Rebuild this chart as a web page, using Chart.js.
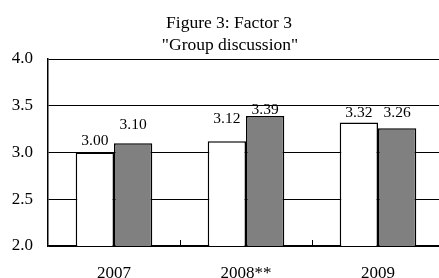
<!DOCTYPE html>
<html>
<head>
<meta charset="utf-8">
<script src="https://cdn.jsdelivr.net/npm/chart.js@4"></script>
<style>
  html, body { margin: 0; padding: 0; background: #fff; overflow: hidden; }
  #wrap { width: 445px; height: 278px; }
</style>
</head>
<body>
<div id="wrap"><canvas id="chart" width="445" height="278"></canvas></div>
<script>
// Figure 3: Factor 3 "Group discussion"
const titleLines = ['Figure 3: Factor 3', '"Group discussion"'];
const years = ['2007', '2008**', '2009'];
const seriesA = [3.00, 3.12, 3.32];   // white bars
const seriesB = [3.10, 3.39, 3.26];   // grey bars
const yTicks = [2.0, 2.5, 3.0, 3.5, 4.0];

const serif = '"Liberation Serif", "Times New Roman", serif';

// hand-placed label gaps (px above bar top), as in the original sheet
const labelGap = [[8, 18, 6], [14, 2, 11]];

// title drawn by hand so it can sit a bit left of the plot centre like the original
const titlePlugin = {
  id: 'titleLines',
  afterDraw(chart) {
    const ctx = chart.ctx;
    ctx.save();
    ctx.fillStyle = '#000';
    ctx.font = '17.5px ' + serif;
    ctx.textAlign = 'center';
    ctx.textBaseline = 'alphabetic';
    ctx.fillText(titleLines[0], 229, 28);
    ctx.fillText(titleLines[1], 230, 50);
    ctx.restore();
  }
};

// value labels above each bar
const valueLabels = {
  id: 'valueLabels',
  afterDatasetsDraw(chart) {
    const ctx = chart.ctx;
    ctx.save();
    ctx.fillStyle = '#000';
    ctx.font = '15.5px ' + serif;
    ctx.textAlign = 'center';
    ctx.textBaseline = 'alphabetic';
    chart.data.datasets.forEach((ds, i) => {
      chart.getDatasetMeta(i).data.forEach((bar, j) => {
        ctx.fillText(ds.data[j].toFixed(2), bar.x, bar.y - labelGap[i][j]);
      });
    });
    ctx.restore();
  }
};

// little ticks between categories, pointing up into the plot
const innerTicks = {
  id: 'innerTicks',
  afterDraw(chart) {
    const x = chart.scales.x, area = chart.chartArea, ctx = chart.ctx;
    ctx.save();
    ctx.strokeStyle = '#000';
    ctx.lineWidth = 1;
    for (let i = 1; i < years.length; i++) {
      const px = Math.round((x.getPixelForTick(i - 1) + x.getPixelForTick(i)) / 2) + 0.5;
      ctx.beginPath();
      ctx.moveTo(px, area.bottom);
      ctx.lineTo(px, area.bottom - 6);
      ctx.stroke();
    }
    ctx.restore();
  }
};

new Chart(document.getElementById('chart'), {
  type: 'bar',
  data: {
    labels: years,
    datasets: [
      { data: seriesA, backgroundColor: '#ffffff', borderColor: '#000', borderWidth: 1.5,
        categoryPercentage: 0.58, barPercentage: 1 },
      { data: seriesB, backgroundColor: '#808080', borderColor: '#000', borderWidth: 1.5,
        categoryPercentage: 0.58, barPercentage: 1 }
    ]
  },
  options: {
    responsive: false,
    animation: false,
    layout: { padding: { top: 59, right: 1, left: 0, bottom: 0 } },
    plugins: { legend: { display: false }, tooltip: { enabled: false }, title: { display: false } },
    scales: {
      x: {
        grid: { display: false },
        border: { color: '#000', width: 1.5 },
        afterFit(axis) { axis.height = 32; },
        ticks: { color: '#000', font: { family: serif, size: 17 }, padding: 9 }
      },
      y: {
        min: 2, max: 4,
        afterBuildTicks(axis) { axis.ticks = yTicks.map(v => ({ value: v })); },
        afterFit(axis) { axis.width = 48; },
        grid: { color: '#000', lineWidth: 1, drawTicks: false },
        border: { color: '#000', width: 1.5 },
        ticks: { color: '#000', font: { family: serif, size: 17 }, padding: 15,
                 callback: v => v.toFixed(1) }
      }
    }
  },
  plugins: [titlePlugin, valueLabels, innerTicks]
});
</script>
</body>
</html>
